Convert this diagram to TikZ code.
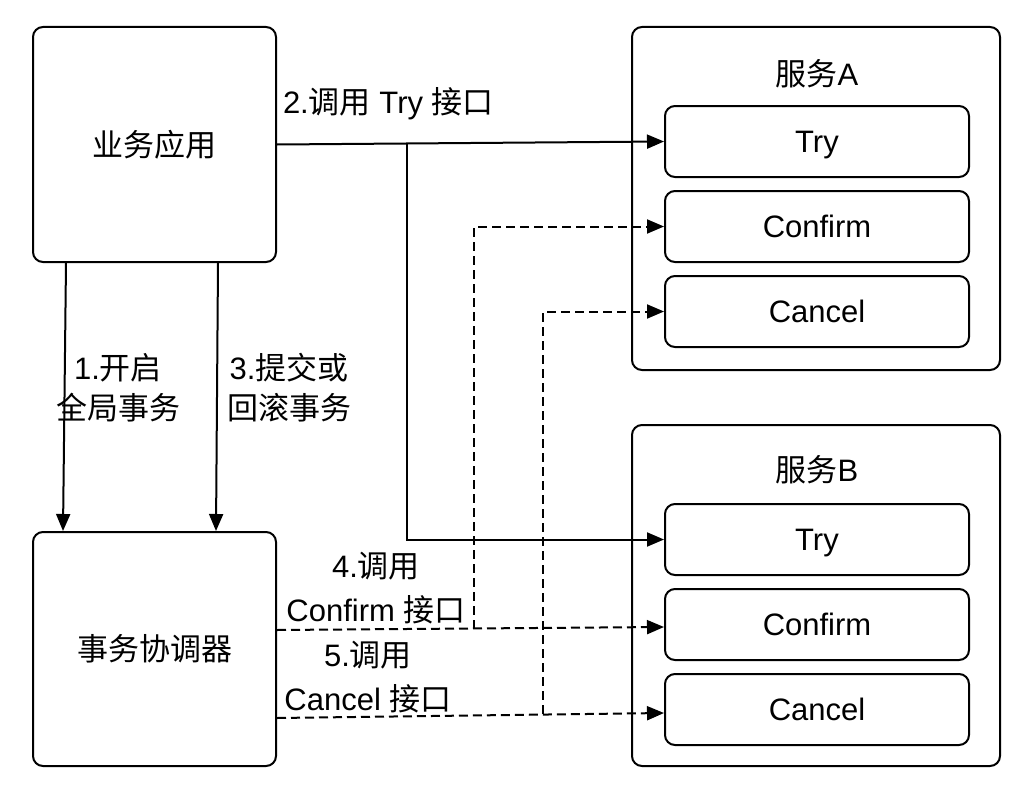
\documentclass[tikz,border=0pt]{standalone}
\usepackage{fontspec}
\setmainfont{Liberation Sans}
\newfontfamily\cjk{Noto Sans CJK SC}
\usetikzlibrary{arrows.meta,calc}

\begin{document}
\begin{tikzpicture}[x=1pt,y=-1pt,
  line width=2pt,
  box/.style={draw,rounded corners=10pt,minimum width=243pt,minimum height=235pt,
    inner sep=0pt,font=\fontsize{31}{36}\selectfont},
  group/.style={draw,rounded corners=10pt,minimum width=368pt,inner sep=0pt},
  op/.style={draw,rounded corners=10pt,minimum width=304pt,minimum height=71pt,
    inner sep=0pt,text height=22pt,text depth=0pt,font=\fontsize{31}{36}\selectfont},
  lbl/.style={inner sep=0pt,align=center},
  arr/.style={-{Triangle[length=17pt,width=14pt]}},
  dsh/.style={dash pattern=on 9pt off 5pt}]
\useasboundingbox (0,0) rectangle (1020,792);

% client side
\node[box] (app) at (154.5,144.5) {\cjk 业务应用};
\node[box,minimum height=234pt] (tc) at (154.5,649) {\cjk 事务协调器};

% service A
\node[group,minimum height=343pt] (sa) at (816,198.5) {};
\node[font=\fontsize{31}{36}\selectfont] (saT) at (817,74) {{\cjk 服务}A};
\node[op] (tryA) at (817,141.5) {Try};
\node[op] (confA) at (817,226.5) {Confirm};
\node[op] (cancA) at (817,311.5) {Cancel};

% service B
\node[group,minimum height=341pt] (sb) at (816,595.5) {};
\node[font=\fontsize{31}{36}\selectfont] (sbT) at (817,470) {{\cjk 服务}B};
\node[op] (tryB) at (817,539.5) {Try};
\node[op] (confB) at (817,624.5) {Confirm};
\node[op] (cancB) at (817,709.5) {Cancel};

% 1 / 3: begin and finish the global transaction
\draw[arr] ($(app.south west)+(34,0)$) -- ($(tc.north west)+(31,0)$);
\draw[arr] ($(app.south west)+(186,0)$) -- ($(tc.north west)+(184,0)$);

% 2: try calls
\draw[arr] (app.east) -- (tryA.west);
\coordinate (s2) at (407,143);
\draw[arr] (s2) |- (tryB.west);

% 4: confirm calls
\draw[arr,dsh] ($(tc.east)+(0,-19)$) -- ($(confB.west)+(0,2.5)$);
\coordinate (s4) at (474,628.5);
\draw[arr,dsh] (s4) |- (confA.west);

% 5: cancel calls
\draw[arr,dsh] ($(tc.east)+(0,69)$) -- ($(cancB.west)+(0,3.5)$);
\coordinate (s5) at (543,713.5);
\draw[arr,dsh] (s5) |- (cancA.west);

% labels
\node[lbl,anchor=west,font=\fontsize{31}{36}\selectfont] (l2) at (282,104)
  {2.{\cjk 调用} Try {\cjk 接口}};
\node[lbl,font=\fontsize{31}{40}\selectfont] (l1) at (118,388)
  {1.{\cjk 开启}\\{\cjk 全局事务}};
\node[lbl,font=\fontsize{31}{40}\selectfont] (l3) at (289,388)
  {3.{\cjk 提交或}\\{\cjk 回滚事务}};
\node[lbl,font=\fontsize{31}{44}\selectfont] (l4) at (376,588)
  {4.{\cjk 调用}\\Confirm {\cjk 接口}};
\node[lbl,font=\fontsize{31}{44}\selectfont] (l5) at (368,677)
  {5.{\cjk 调用}\\Cancel {\cjk 接口}};
\end{tikzpicture}
\end{document}
